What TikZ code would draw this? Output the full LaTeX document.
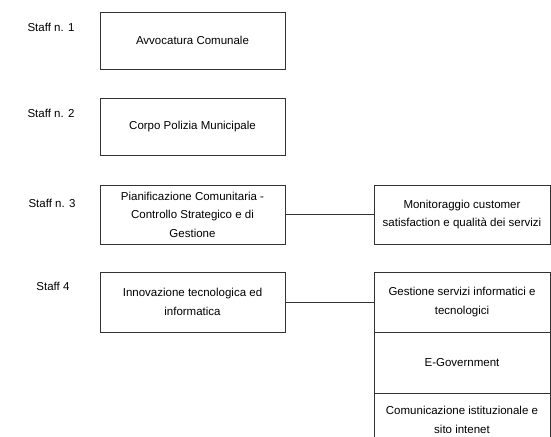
\documentclass[tikz,border=0pt]{standalone}
\usepackage{fontspec}
\setmainfont{Liberation Sans}
\begin{document}
\begin{tikzpicture}[x=1pt,y=-1pt,
  box/.style={draw=black!80,line width=0.8pt,rectangle,inner sep=0pt,align=center,
    font=\fontsize{11.5}{18.5}\selectfont},
  lbl/.style={font=\fontsize{11.5}{13}\selectfont,inner sep=0pt},
  conn/.style={draw=black!80,line width=0.8pt}]
\useasboundingbox (0,0) rectangle (551,436);
\clip (0,0) rectangle (551,436);
\node[lbl] (s1) at (51,27) {Staff n. 1};
\node[lbl] (s2) at (51,113) {Staff n. 2};
\node[lbl] (s3) at (52,203) {Staff n. 3};
\node[lbl] (s4) at (53,286) {Staff 4};
\node[box,minimum width=185pt,minimum height=57pt] (b1) at (192.5,40.5) {Avvocatura Comunale};
\node[box,minimum width=185pt,minimum height=57pt] (b2) at (192.5,126.5) {Corpo Polizia Municipale};
\node[box,minimum width=185pt,minimum height=59pt] (b3) at (192.5,214.5) {Pianificazione Comunitaria -\\Controllo Strategico e di\\Gestione};
\node[box,minimum width=176pt,minimum height=59pt] (m3) at (462,214.5) {Monitoraggio customer\\satisfaction e qualità dei servizi};
\node[box,minimum width=185pt,minimum height=60pt] (b4) at (192.5,302) {Innovazione tecnologica ed\\informatica};
\node[box,minimum width=176pt,minimum height=60pt] (g1) at (462,302) {Gestione servizi informatici e\\tecnologici};
\node[box,minimum width=176pt,minimum height=61pt] (g2) at (462,362.5) {E-Government};
\node[box,minimum width=176pt,minimum height=61pt] (g3) at (462,423.5) {};
\node[align=center,font=\fontsize{11.5}{18.5}\selectfont,inner sep=0pt] (g3t) at (462,420) {Comunicazione istituzionale e\\sito intenet};
\draw[conn] (b3.east) -- (m3.west);
\draw[conn] (b4.east) -- (g1.west);
\end{tikzpicture}
\end{document}
